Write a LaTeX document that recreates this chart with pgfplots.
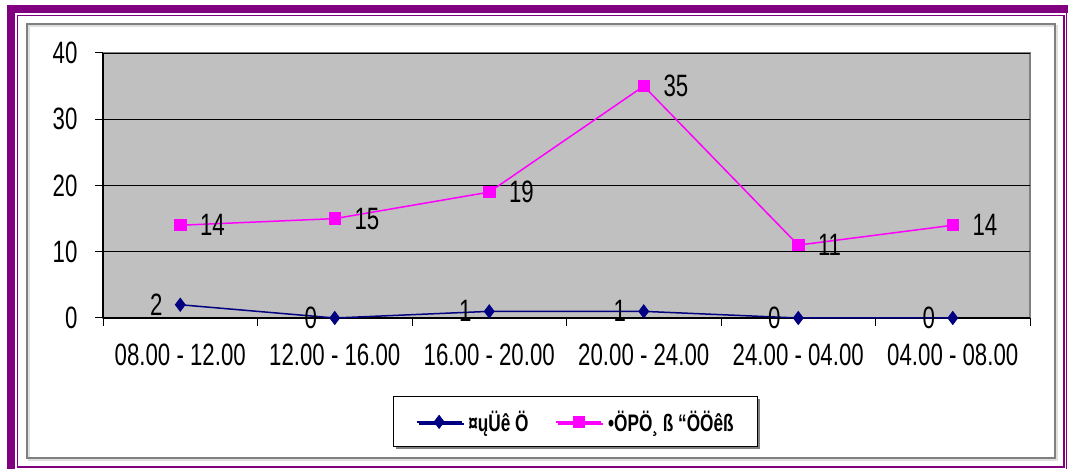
\documentclass[border=0pt]{standalone}
\usepackage{pgfplots}
\pgfplotsset{compat=1.18}
\usepackage{fontspec}
\setmainfont{Liberation Sans}[FakeStretch=0.72]
\usetikzlibrary{shadows}
\definecolor{Plum}{HTML}{800080}
\definecolor{Navy}{HTML}{000080}
\definecolor{Mag}{HTML}{FF00FF}
\definecolor{PlotGray}{HTML}{C0C0C0}
\newcommand{\lblfont}{\fontsize{31}{31}\selectfont}
\begin{document}
\begin{tikzpicture}[x=1bp,y=1bp]
  \path[use as bounding box] (0,0) rectangle (1068,469);
  % outer frame
  \fill[Plum] (7,0) rectangle (15,464);
  \fill[Plum] (7,456) rectangle (1068,464);
  \draw[Plum, line width=1.5bp] (17.5,2) -- (17.5,453.5) -- (1064,453.5) -- (1064,2) -- cycle;
  \draw[Plum, line width=1.5bp] (1066.5,0) -- (1066.5,464);
  % chart area
  \draw[gray!25, line width=2bp] (29,9) rectangle (1057,443);
  \draw[gray, line width=1.5bp] (27,11) rectangle (1055,445);

  \begin{axis}[
      at={(103bp,151bp)}, anchor=south west,
      scale only axis, width=927bp, height=265bp,
      xmin=-0.5, xmax=5.5, ymin=0, ymax=40,
      xtick={0,...,5},
      xticklabels={08.00 - 12.00, 12.00 - 16.00, 16.00 - 20.00, 20.00 - 24.00, 24.00 - 04.00, 04.00 - 08.00},
      major x tick style={draw=none},
      minor xtick={-0.5,0.5,...,5.5},
      ytick={0,10,...,40},
      tick align=outside,
      axis x line*=bottom, axis y line*=left,
      axis line style={black, line width=1.2bp, -},
      ymajorgrids, grid style={black, line width=0.8bp},
      axis background/.style={fill=PlotGray, draw=gray, line width=2.5bp},
      every tick/.style={black, line width=1bp},
      major tick length=8bp, minor tick length=8bp,
      tick label style={font=\lblfont},
      xticklabel style={yshift=-14bp},
      yticklabel style={xshift=-14bp},
      /pgf/number format/assume math mode=true,
      clip=false,
      legend style={at={(0.51,-0.392)}, anchor=center, draw=black, line width=1bp,
        fill=white, drop shadow={shadow xshift=2bp, shadow yshift=-2bp, fill=gray, opacity=1},
        font=\bfseries\fontsize{24}{24}\selectfont, legend columns=2,
        /tikz/every even column/.append style={column sep=25bp},
        /tikz/every odd column/.append style={column sep=4bp},
        inner xsep=22bp, inner ysep=12bp},
      legend image code/.code={\draw[mark repeat=2,mark phase=2,#1] plot coordinates {(0bp,0bp) (22.5bp,0bp) (45bp,0bp)};},
    ]
    \addplot[Navy, line width=1.5bp, mark=diamond*, mark size=6bp, mark options={solid, fill=Navy},
      nodes near coords, nodes near coords style={anchor=east, xshift=-17bp, inner sep=0pt, font=\lblfont, text=black}]
      coordinates {(0,2) (1,0) (2,1) (3,1) (4,0) (5,0)};
    \addlegendentry{¤ųÜê Ö}
    \addplot[Mag, line width=1.5bp, mark=square*, mark size=5.5bp, mark options={solid, fill=Mag},
      nodes near coords, nodes near coords style={anchor=west, xshift=19bp, inner sep=0pt, font=\lblfont, text=black}]
      coordinates {(0,14) (1,15) (2,19) (3,35) (4,11) (5,14)};
    \addlegendentry{•ÖPÖ¸ ß “ÖÖêß}
  \end{axis}
\end{tikzpicture}
\end{document}
